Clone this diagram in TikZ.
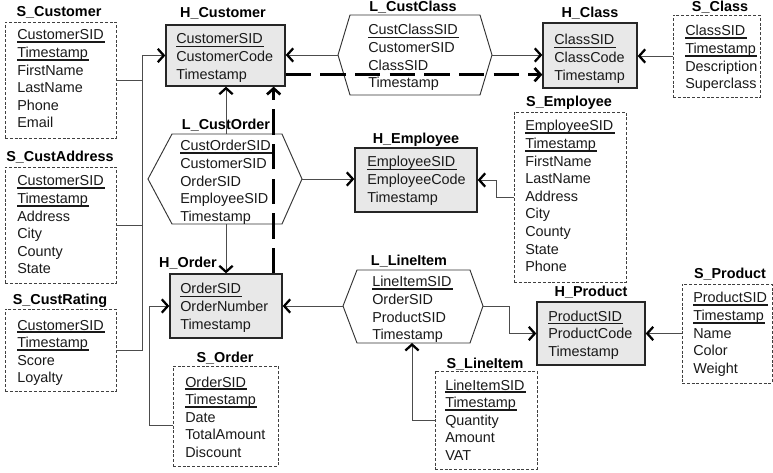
\documentclass[tikz,border=0pt]{standalone}
\usepackage{fontspec}
\setmainfont{Liberation Sans}
\usetikzlibrary{arrows.meta,fit,calc}
\newsavebox\keybox
\newcommand\keyline[3]{\sbox\keybox{#3}\rlap{\rule[#1]{\dimexpr\wd\keybox+1pt\relax}{#2}}#3}
\newcommand\tk[1]{\keyline{-2.6pt}{1.5pt}{#1}}
\newcommand\hk[1]{\keyline{-2.3pt}{0.9pt}{#1}}
\newcommand\lk[1]{\keyline{-2.1pt}{0.5pt}{#1}}
\newcommand\flist[4]{\foreach \t [count=\i] in {#4}{\node[field] (#1\i) at (#2,{#3+5+(\i-1)*17.6}) {\t};}}
\tikzset{
 sat/.style={draw=black!75, line width=0.6pt, dash pattern=on 2.2pt off 1.4pt, inner sep=0pt},
 hub/.style={draw=black!85, fill=black!9, line width=1pt, inner sep=0pt},
 hexa/.style={draw=black!80, line width=0.7pt},
 field/.style={anchor=base west, inner sep=0pt, font=\fontsize{10.8}{12}\selectfont, text=black!90},
 ttl/.style={anchor=base, inner sep=0pt, font=\fontsize{10.8}{12}\selectfont\bfseries},
 conn/.style={draw=black!70, line width=0.7pt},
 arr/.style={-{Straight Barb[length=4.5pt,width=10pt,line width=1.7pt,color=black]}},
 dline/.style={draw=black, line width=2.3pt, dash pattern=on 19pt off 7pt,
   -{Straight Barb[length=4.5pt,width=10pt,line width=2pt]}},
}
\begin{document}
\begin{tikzpicture}[x=0.75pt,y=-0.75pt]
\useasboundingbox (0,0) rectangle (773,473);
% ---------- boxes ----------
\node[sat,fit={(5,22) (116,138)}] (SCust) {};
\node[sat,fit={(5,167) (116,283)}] (SCA) {};
\node[sat,fit={(5,309) (116,391)}] (SCR) {};
\node[hub,fit={(166,25) (285,86)}] (HCust) {};
\node[hub,fit={(543,23) (637,88)}] (HClass) {};
\node[sat,fit={(673,15) (760,97)}] (SClass) {};
\node[hub,fit={(355,148) (477,212)}] (HEmp) {};
\node[sat,fit={(514,112) (626,282)}] (SEmp) {};
\node[hub,fit={(170,274) (282,338)}] (HOrd) {};
\node[sat,fit={(173,366) (278,466)}] (SOrd) {};
\node[hub,fit={(537,302) (645,365)}] (HProd) {};
\node[sat,fit={(682,284) (772,383)}] (SProd) {};
\node[sat,fit={(435,371) (537,469)}] (SLI) {};
% ---------- hexagons ----------
\coordinate (LCC-w) at (338,55);  \coordinate (LCC-nw) at (350,15);
\coordinate (LCC-ne) at (480,15); \coordinate (LCC-e) at (492,55);
\coordinate (LCC-se) at (480,95); \coordinate (LCC-sw) at (350,95);
\draw[hexa] (LCC-w) -- (LCC-nw) -- (LCC-ne) -- (LCC-e) -- (LCC-se) -- (LCC-sw) -- cycle;
\coordinate (LCO-w) at (148,179);  \coordinate (LCO-nw) at (172,134);
\coordinate (LCO-ne) at (282,134); \coordinate (LCO-e) at (302,179);
\coordinate (LCO-se) at (282,224); \coordinate (LCO-sw) at (172,224);
\coordinate (LCO-n) at (226,134);  \coordinate (LCO-s) at (226,224);
\draw[hexa] (LCO-w) -- (LCO-nw) -- (LCO-ne) -- (LCO-e) -- (LCO-se) -- (LCO-sw) -- cycle;
\coordinate (LLI-w) at (343,306);  \coordinate (LLI-nw) at (357,270);
\coordinate (LLI-ne) at (470,270); \coordinate (LLI-e) at (483,306);
\coordinate (LLI-se) at (470,343); \coordinate (LLI-sw) at (357,343);
\coordinate (LLI-b) at (412,343);
\draw[hexa] (LLI-w) -- (LLI-nw) -- (LLI-ne) -- (LLI-e) -- (LLI-se) -- (LLI-sw) -- cycle;
% ---------- titles ----------
\node[ttl] (tSCust) at (59,17) {S\_Customer};
\node[ttl] (tSCA) at (60,162) {S\_CustAddress};
\node[ttl] (tSCR) at (60,305) {S\_CustRating};
\node[ttl] (tHCust) at (223,18) {H\_Customer};
\node[ttl] (tLCC) at (413,12) {L\_CustClass};
\node[ttl] (tHClass) at (590,18) {H\_Class};
\node[ttl] (tSClass) at (720,12) {S\_Class};
\node[ttl] (tSEmp) at (569,107) {S\_Employee};
\node[ttl] (tHEmp) at (416,144) {H\_Employee};
\node[ttl] (tLCO) at (226,130) {L\_CustOrder};
\node[ttl] (tHOrd) at (188,268) {H\_Order};
\node[ttl] (tSOrd) at (225,362) {S\_Order};
\node[ttl] (tLLI) at (409,266) {L\_LineItem};
\node[ttl] (tHProd) at (591,297) {H\_Product};
\node[ttl] (tSProd) at (730,279) {S\_Product};
\node[ttl] (tSLI) at (485,368) {S\_LineItem};
% ---------- fields ----------
\flist{fSCust}{17}{35}{\tk{CustomerSID},\tk{Timestamp},FirstName,LastName,Phone,Email}
\flist{fSCA}{17}{181}{\tk{CustomerSID},\tk{Timestamp},Address,City,County,State}
\flist{fSCR}{17}{325}{\tk{CustomerSID},\tk{Timestamp},Score,Loyalty}
\flist{fHCust}{176}{39}{\hk{CustomerSID},CustomerCode,Timestamp}
\flist{fHClass}{554}{40}{\hk{ClassSID},ClassCode,Timestamp}
\flist{fSClass}{685}{31}{\tk{ClassSID},\tk{Timestamp},Description,Superclass}
\flist{fHEmp}{367}{162}{\hk{EmployeeSID},EmployeeCode,Timestamp}
\flist{fSEmp}{525}{126}{\tk{EmployeeSID},\tk{Timestamp},FirstName,LastName,Address,City,County,State,Phone}
\flist{fLCC}{368}{30}{\lk{CustClassSID},CustomerSID,ClassSID,Timestamp}
\flist{fLCO}{180}{146}{\tk{CustOrderSID},CustomerSID,OrderSID,EmployeeSID,Timestamp}
\flist{fHOrd}{180}{289}{\hk{OrderSID},OrderNumber,Timestamp}
\flist{fSOrd}{185}{382}{\tk{OrderSID},\tk{Timestamp},Date,TotalAmount,Discount}
\flist{fLLI}{372}{282}{\tk{LineItemSID},OrderSID,ProductSID,Timestamp}
\flist{fHProd}{548}{316}{\hk{ProductSID},ProductCode,Timestamp}
\flist{fSProd}{693}{298}{\tk{ProductSID},\tk{Timestamp},Name,Color,Weight}
\flist{fSLI}{445}{385}{\tk{LineItemSID},\tk{Timestamp},Quantity,Amount,VAT}
% ---------- connectors ----------
\coordinate (bus) at (142,0);
\draw[conn] (SCust.east) -- (SCust.east -| bus);
\draw[conn] (SCA.east) -- (SCA.east -| bus);
\draw[conn,arr] (SCR.east) -- (SCR.east -| bus) -- (bus |- HCust.west) -- (HCust.west);
\draw[conn,arr] (LCC-w) -- (LCC-w -| HCust.east);
\draw[conn,arr] (LCC-e) -- (LCC-e -| HClass.west);
\draw[conn,arr] (SClass.west) -- (SClass.west -| HClass.east);
\draw[conn,arr] (LCO-n) -- (LCO-n |- HCust.south);
\draw[conn,arr] (LCO-s) -- (LCO-s |- HOrd.north);
\draw[conn,arr] (LCO-e) -- (LCO-e -| HEmp.west);
\draw[conn,arr] (SEmp.west) -- ++(-17,0) |- (HEmp.east);
\draw[conn,arr] (LLI-w) -- (LLI-w -| HOrd.east);
\draw[conn,arr] (LLI-e) -- ++(26,0) |- (HProd.west);
\draw[conn,arr] (SProd.west) -- (SProd.west -| HProd.east);
\draw[conn,arr] (SLI.west) -- (SLI.west -| LLI-b) -- (LLI-b);
\draw[conn,arr] ($(SOrd.west)+(0,9)$) -- ++(-23,0) |- (HOrd.west);
% thick dashed
\coordinate (dA) at ($(HCust.south east)+(0,-12)$);
\draw[dline] (dA) -- (dA -| HClass.west);
\coordinate (dB) at ($(HOrd.north east)+(-9,0)$);
\draw[dline] (dB) -- (dB |- HCust.south);
\end{tikzpicture}
\end{document}
